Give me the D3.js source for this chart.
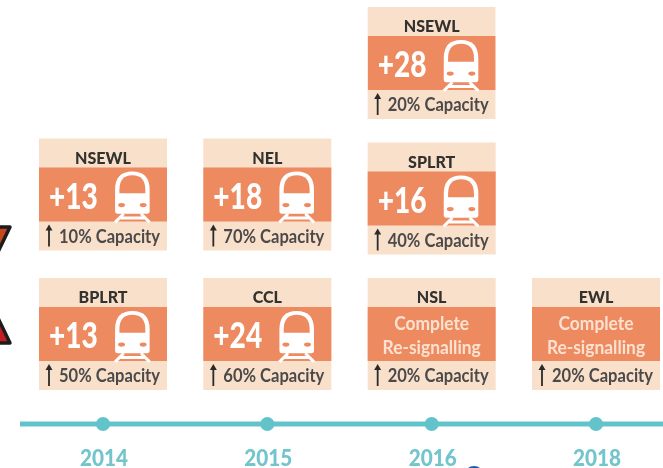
<!DOCTYPE html>
<html>
<head>
<meta charset="utf-8">
<script src="https://cdn.jsdelivr.net/npm/d3@7"></script>
<style>
  html, body { margin: 0; padding: 0; background: #fff; }
  svg { display: block; }
  text { font-family: Lato, "Open Sans", sans-serif; }
</style>
</head>
<body>
<div id="timeline"></div>
<script>
var years = ["2014", "2015", "2016", "2018"];
var cardYears = ["2014", "2014", "2015", "2015", "2016", "2016", "2016", "2018"];
var cardLevels = [0, 1, 0, 1, 0, 1, 2, 0];
var cardLines = ["BPLRT", "NSEWL", "CCL", "NEL", "NSL", "SPLRT", "NSEWL", "EWL"];
var cardTrains = ["+13", "+13", "+24", "+18", null, "+16", "+28", null];
var cardCapacity = [50, 10, 60, 70, 20, 40, 20, 20];

var width = 663, height = 468,
    cardWidth = 128, headHeight = 29, bandHeight = 54, footHeight = 29;

var x = d3.scalePoint().domain(years).range([103, 596]);
var levelY = d3.scaleLinear().domain([0, 2]).range([278, 7]);

var cards = cardLines.map(function(line, i) {
  return {line: line, year: cardYears[i], level: cardLevels[i], trains: cardTrains[i], capacity: cardCapacity[i]};
});

var svg = d3.select("#timeline").append("svg")
  .attr("width", width)
  .attr("height", height);

// the reference is a soft upscaled image, a small blur gets close to it
svg.append("filter").attr("id", "soft")
  .append("feGaussianBlur").attr("stdDeviation", 0.55);

var root = svg.append("g").attr("filter", "url(#soft)");

// cut off warning icon on the left edge
root.append("path")
  .attr("d", "M-6,227 L10,227 L-3,254 Z")
  .attr("fill", "#c9471c").attr("stroke", "#1d1b1b").attr("stroke-width", 3.5).attr("stroke-linejoin", "round");
root.append("path")
  .attr("d", "M-3,316 L10,343 L-6,343 Z")
  .attr("fill", "#c41c28").attr("stroke", "#1d1b1b").attr("stroke-width", 3.5).attr("stroke-linejoin", "round");

// stray logo edge under 2016
root.append("ellipse")
  .attr("cx", 474).attr("cy", 474).attr("rx", 9).attr("ry", 8)
  .attr("fill", "#1f5fae");

// timeline
root.append("line")
  .attr("x1", 20).attr("x2", width + 5)
  .attr("y1", 424).attr("y2", 424)
  .attr("stroke", "#62c3ca").attr("stroke-width", 5);

root.selectAll(".dot")
  .data(years)
  .enter().append("circle")
  .attr("class", "dot")
  .attr("cx", function(d) { return x(d); })
  .attr("cy", 424)
  .attr("r", 7)
  .attr("fill", "#62c3ca");

root.selectAll(".year")
  .data(years)
  .enter().append("text")
  .attr("class", "year")
  .attr("transform", function(d) { return "translate(" + (x(d) + 1) + ",466) scale(0.9,1)"; })
  .attr("text-anchor", "middle")
  .attr("font-size", 23)
  .attr("font-weight", 900)
  .attr("fill", "#73c5cc")
  .text(function(d) { return d; });

var card = root.selectAll(".card")
  .data(cards)
  .enter().append("g")
  .attr("class", "card")
  .attr("transform", function(d) {
    // the 2014/2015 upper cards sit a little higher than the 2016 one
    var top = levelY(d.level) - (d.level == 1 && d.year < "2016" ? 4 : 0);
    return "translate(" + (x(d.year) - cardWidth / 2) + "," + top + ")";
  });

card.append("rect")
  .attr("width", cardWidth)
  .attr("height", headHeight + bandHeight + footHeight)
  .attr("fill", "#f9e0ca");

card.append("rect")
  .attr("y", headHeight)
  .attr("width", cardWidth)
  .attr("height", bandHeight)
  .attr("fill", "#ee8a61");

card.append("text")
  .attr("transform", "translate(" + (cardWidth / 2) + ",25) scale(0.92,1)")
  .attr("text-anchor", "middle")
  .attr("font-size", 17.5)
  .attr("font-weight", 900)
  .attr("fill", "#33302e")
  .text(function(d) { return d.line; });

var withTrains = card.filter(function(d) { return d.trains; });

withTrains.append("text")
  .attr("transform", "translate(10," + (headHeight + 41) + ") scale(0.78,1)")
  .attr("font-size", 36)
  .attr("font-weight", 900)
  .attr("fill", "#fff")
  .text(function(d) { return d.trains; });

var train = withTrains.append("g")
  .attr("transform", "translate(75," + (headHeight + 3) + ") scale(1.08)");

train.append("path")
  .attr("d", "M1,38 L1,18 Q1,1 17,1 Q33,1 33,18 L33,38 Q33,40 31,40 L3,40 Q1,40 1,38 Z")
  .attr("fill", "#fff");
train.append("path")
  .attr("d", "M5,21 L5,18 Q5,4.5 17,4.5 Q29,4.5 29,18 L29,21 Z")
  .attr("fill", "#ee8a61");
train.selectAll(".lamp")
  .data([7, 27])
  .enter().append("ellipse")
  .attr("class", "lamp")
  .attr("cx", function(d) { return d; })
  .attr("cy", 32)
  .attr("rx", 3.2).attr("ry", 2)
  .attr("fill", "#ee8a61");
train.append("path")
  .attr("d", "M9,40 L1,48 M25,40 L33,48 M6,44 L28,44")
  .attr("stroke", "#fff").attr("stroke-width", 2.8).attr("fill", "none");

var resignal = card.filter(function(d) { return !d.trains; });

resignal.selectAll(".note")
  .data(["Complete", "Re-signalling"])
  .enter().append("text")
  .attr("class", "note")
  .attr("transform", function(d, i) {
    return "translate(" + (cardWidth / 2) + "," + (headHeight + 23 + i * 24) + ") scale(0.94,1)";
  })
  .attr("text-anchor", "middle")
  .attr("font-size", 18.5)
  .attr("font-weight", 700)
  .attr("fill", "#fbe2d0")
  .text(function(d) { return d; });

// capacity footer
var footY = headHeight + bandHeight;

card.append("path")
  .attr("d", "M10," + (footY + 25) + " L10," + (footY + 7))
  .attr("stroke", "#2b2a29").attr("stroke-width", 1.8);
card.append("path")
  .attr("d", "M6.5," + (footY + 9) + " L10," + (footY + 3) + " L13.5," + (footY + 9) + " Z")
  .attr("fill", "#2b2a29");

card.append("text")
  .attr("transform", "translate(20," + (footY + 21) + ") scale(0.92,1)")
  .attr("font-size", 18)
  .attr("font-weight", 700)
  .attr("fill", "#4c4a4a")
  .text(function(d) { return d.capacity + "% Capacity"; });
</script>
</body>
</html>
